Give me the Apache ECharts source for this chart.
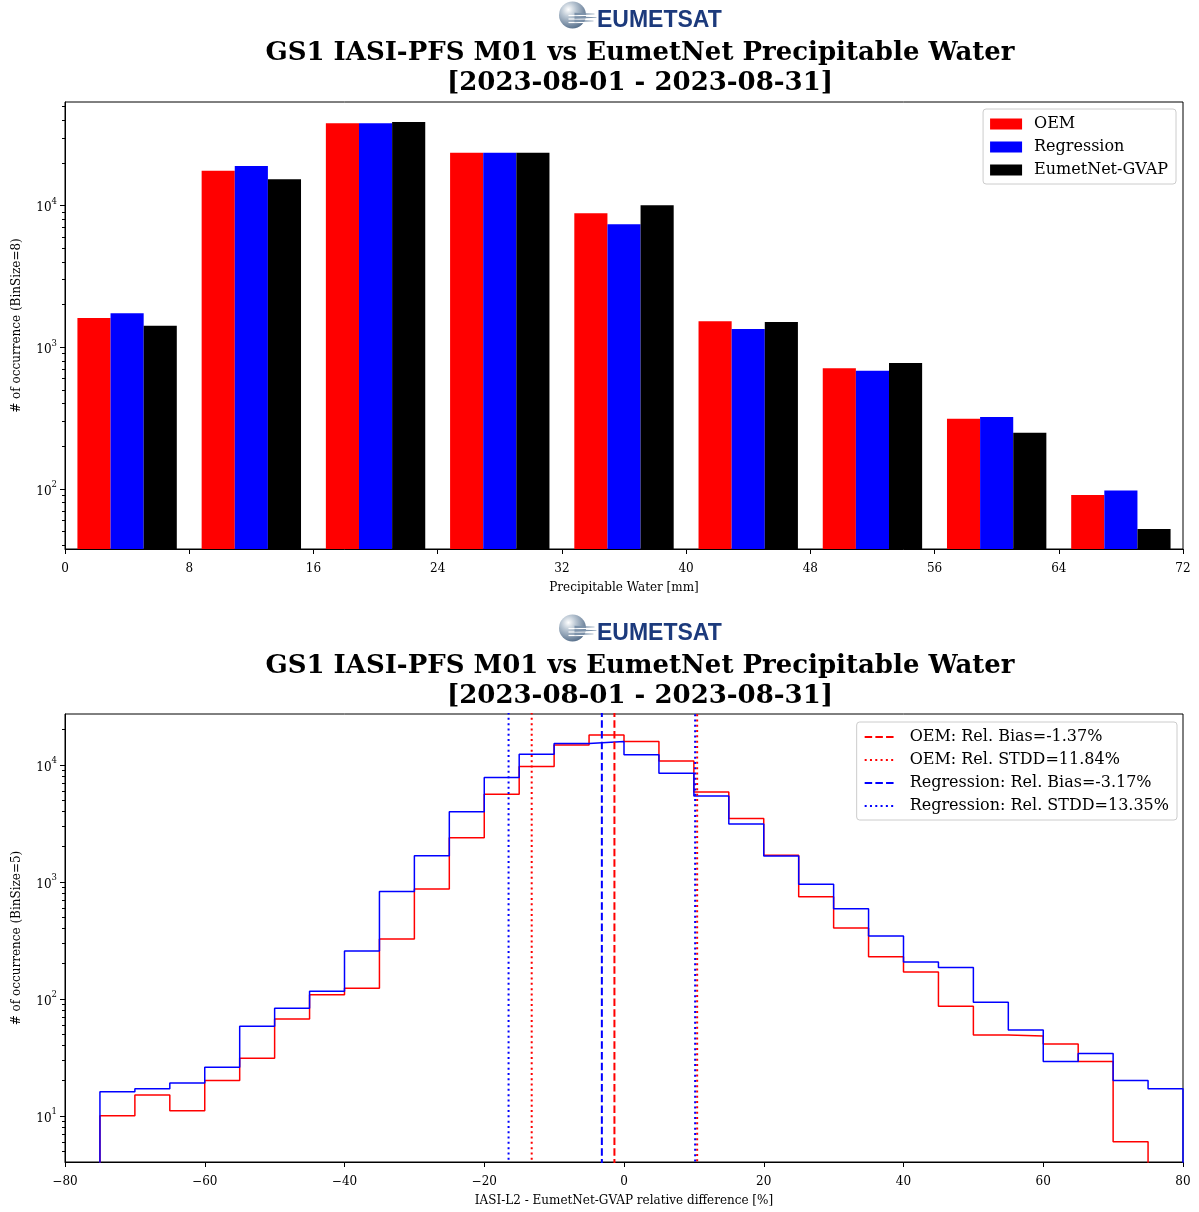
<!DOCTYPE html>
<html>
<head>
<meta charset="utf-8">
<script src="https://cdn.jsdelivr.net/npm/echarts@6.0.0/dist/echarts.min.js"></script>
<style>
html, body { margin: 0; padding: 0; background: #fff; }
#chart { width: 1199px; height: 1212px; }
</style>
</head>
<body>
<div id="chart"></div>
<script>
const serif = 'DejaVu Serif'

// top panel: precipitable water, bins of 8 mm
const pwBinStarts = [0, 8, 16, 24, 32, 40, 48, 56, 64]
const pwOem = [1600, 17500, 37850, 23500, 8770, 1518, 706, 311, 90]
const pwRegression = [1727, 18930, 37850, 23500, 7330, 1337, 680, 320, 97]
const pwGvap = [1413, 15240, 38640, 23500, 10000, 1500, 770, 248, 52]

// bottom panel: relative difference, bins of 5 %
const relBinStarts = [-75, -70, -65, -60, -55, -50, -45, -40, -35, -30, -25, -20, -15, -10, -5,
  0, 5, 10, 15, 20, 25, 30, 35, 40, 45, 50, 55, 60, 65, 70, 75]
const relOem = [10, 15, 11, 20, 31, 67, 108, 123, 324, 865, 2370, 5600, 9650, 14750, 17950,
  15750, 10750, 5850, 3460, 1680, 745, 402, 228, 169, 86, 49, 48, 41, 29, 6, 0]
const relRegression = [16, 17, 19, 26, 58, 83, 116, 256, 825, 1667, 3960, 7750, 12300, 15200, 15750,
  12150, 8450, 5410, 3115, 1660, 950, 587, 343, 206, 185, 93, 54, 29, 34, 20, 17]
const relBinEnd = 80

const oemBias = -1.37
const oemStdd = 11.84
const regBias = -3.17
const regStdd = 13.35

const titleLine1 = 'GS1 IASI-PFS M01 vs EumetNet Precipitable Water'
const titleLine2 = '[2023-08-01 - 2023-08-31]'

// bar layout inside one 8 mm bin (matplotlib width 0.8 split in 3)
const barStart = 0.8
const barWidth = 6.4 / 3

const yRange = [[37.5, 53500], [4.02, 27100]]
const xMin = [0, -80]

function logLabel(v) {
	const e = Math.log10(v)
	if (Math.abs(e - Math.round(e)) > 1e-6) return ''
	return '{b|10}{s|' + Math.round(e) + '}'
}

function minusLabel(v) {
	return v < 0 ? '\u2212' + -v : String(v)
}

function barSeries(name, color, counts, slot) {
	return {
		name: name,
		type: 'custom',
		xAxisIndex: 0,
		yAxisIndex: 0,
		itemStyle: { color: color },
		data: pwBinStarts.map((b, i) => [
			b + barStart + slot * barWidth,
			b + barStart + (slot + 1) * barWidth,
			counts[i],
		]),
		encode: { x: [0, 1], y: 2 },
		renderItem: function (params, api) {
			const p0 = api.coord([api.value(0), api.value(2)])
			const p1 = api.coord([api.value(1), api.value(2)])
			const base = params.coordSys.y + params.coordSys.height
			return {
				type: 'rect',
				shape: { x: p0[0], y: p0[1], width: p1[0] - p0[0], height: base - p0[1] },
				style: { fill: api.visual('color') },
			}
		},
	}
}

// log ticks (matplotlib style majors + minors) drawn on the left spine
function tickSeries(idx) {
	const data = []
	for (let d = 0; d <= 5; d++) {
		for (let k = 1; k <= 9; k++) {
			const v = k * Math.pow(10, d)
			if (v >= yRange[idx][0] && v <= yRange[idx][1]) data.push([xMin[idx], v, k === 1 ? 5 : 3])
		}
	}
	return {
		type: 'custom',
		xAxisIndex: idx,
		yAxisIndex: idx,
		silent: true,
		data: data,
		encode: { x: 0, y: 1 },
		renderItem: function (params, api) {
			const p = api.coord([api.value(0), api.value(1)])
			const y = Math.round(p[1]) + 0.5
			return {
				type: 'line',
				shape: { x1: p[0] - api.value(2), y1: y, x2: p[0], y2: y },
				style: { stroke: '#000', lineWidth: 1 },
			}
		},
	}
}

function stepData(counts) {
	const floor = 1e-3
	const pts = [[relBinStarts[0], floor]]
	relBinStarts.forEach((b, i) => pts.push([b, counts[i] > 0 ? counts[i] : floor]))
	const last = counts[counts.length - 1]
	pts.push([relBinEnd, last > 0 ? last : floor])
	pts.push([relBinEnd, floor])
	return pts
}

function stepSeries(color, counts) {
	return {
		type: 'line',
		xAxisIndex: 1,
		yAxisIndex: 1,
		step: 'end',
		symbol: 'none',
		silent: true,
		clip: true,
		lineStyle: { color: color, width: 1.5 },
		data: stepData(counts),
	}
}

// vertical lines spanning the whole axes (clipped)
function vlineSeries(name, color, dash, xs) {
	const lo = 1e-3
	const hi = 1e9
	const data = []
	xs.forEach((x, i) => {
		if (i % 2 === 0) data.push([x, lo], [x, hi])
		else data.push([x, hi], [x, lo])
	})
	return {
		name: name,
		type: 'line',
		xAxisIndex: 1,
		yAxisIndex: 1,
		symbol: 'none',
		silent: true,
		clip: true,
		lineStyle: { color: color, width: 2, type: dash },
		itemStyle: { color: color, opacity: 0 },
		data: data,
	}
}

function logo(x, y) {
	const streak = (y0, x1) => ({
		type: 'polygon',
		shape: { points: [[2, y0 - 1.2], [x1, y0 - 0.3], [x1, y0 + 0.3], [2, y0 + 1.2]] },
		style: { fill: '#7d93ab' },
	})
	const cut = (y0) => ({
		type: 'line',
		shape: { x1: -4, y1: y0, x2: 15, y2: y0 },
		style: { stroke: '#fff', lineWidth: 1.2 },
	})
	return {
		type: 'group',
		x: x,
		y: y,
		children: [
			{
				type: 'circle',
				shape: { cx: 0, cy: 0, r: 13.5 },
				style: {
					fill: new echarts.graphic.RadialGradient(0.35, 0.3, 0.8, [
						{ offset: 0, color: '#ffffff' },
						{ offset: 0.35, color: '#b8c5d2' },
						{ offset: 1, color: '#4a6482' },
					]),
				},
			},
			cut(0.5), cut(4), cut(7.5),
			streak(-1, 22), streak(2.5, 24), streak(6, 21),
			{
				type: 'text',
				x: 24.5,
				y: 6,
				style: {
					text: 'EUMETSAT',
					font: 'bold 23px "Liberation Sans"',
					fill: '#1c3a7c',
					align: 'left',
					verticalAlign: 'middle',
				},
			},
		],
	}
}

function titleText(text, y) {
	return {
		type: 'text',
		x: 640,
		y: y,
		style: {
			text: text,
			font: 'bold 26px "' + serif + '"',
			fill: '#000',
			align: 'center',
			verticalAlign: 'middle',
		},
	}
}

const axisText = { fontFamily: serif, fontSize: 12, color: '#000' }

function xAxis(idx, min, max, interval, name, formatter) {
	return {
		type: 'value',
		gridIndex: idx,
		min: min,
		max: max,
		interval: interval,
		axisLine: { show: true, onZero: false, lineStyle: { color: '#000', width: 1 } },
		axisTick: { show: true, length: 5, lineStyle: { color: '#000', width: 1 } },
		axisLabel: Object.assign({ margin: 14, formatter: formatter }, axisText),
		splitLine: { show: false },
		name: name,
		nameLocation: 'middle',
		nameGap: 33,
		nameTextStyle: axisText,
	}
}

function yAxis(idx, name) {
	return {
		type: 'log',
		logBase: 10,
		gridIndex: idx,
		min: yRange[idx][0],
		max: yRange[idx][1],
		axisLine: { show: true, onZero: false, lineStyle: { color: '#000', width: 1 } },
		axisTick: { show: false },
		axisLabel: {
			margin: 8,
			formatter: logLabel,
			showMinLabel: false,
			showMaxLabel: false,
			rich: {
				b: { fontFamily: serif, fontSize: 12, color: '#000', lineHeight: 18, verticalAlign: 'bottom' },
				s: { fontFamily: serif, fontSize: 8.5, color: '#000', lineHeight: 18, verticalAlign: 'top', padding: [1, 0, 0, 0] },
			},
		},
		splitLine: { show: false },
		minorTick: { show: false },
		name: name,
		nameLocation: 'middle',
		nameGap: 42,
		nameRotate: 90,
		nameTextStyle: axisText,
	}
}

const legendBase = {
	orient: 'vertical',
	backgroundColor: '#fff',
	borderColor: '#cccccc',
	borderWidth: 1,
	borderRadius: 3,
	padding: [6, 8, 5, 7],
	itemGap: 5,
	selectedMode: false,
	textStyle: { fontFamily: serif, fontSize: 16, color: '#000', lineHeight: 18, padding: [0, 0, 0, 7] },
}

const names = [
	'OEM: Rel. Bias=' + oemBias.toFixed(2) + '%',
	'OEM: Rel. STDD=' + oemStdd.toFixed(2) + '%',
	'Regression: Rel. Bias=' + regBias.toFixed(2) + '%',
	'Regression: Rel. STDD=' + regStdd.toFixed(2) + '%',
]
const dashed = [7.5, 3.2]
const dotted = [2, 3.3]

const option = {
	animation: false,
	backgroundColor: '#fff',
	graphic: [
		logo(572.5, 15),
		titleText(titleLine1, 53),
		titleText(titleLine2, 83),
		logo(572.5, 628),
		titleText(titleLine1, 666),
		titleText(titleLine2, 696),
	],
	grid: [
		{ left: 65, top: 102, width: 1118, height: 447, show: true, borderColor: '#000', borderWidth: 1 },
		{ left: 65, top: 714, width: 1118, height: 448, show: true, borderColor: '#000', borderWidth: 1 },
	],
	legend: [
		Object.assign({}, legendBase, {
			right: 23,
			top: 109,
			icon: 'rect',
			itemWidth: 32,
			itemHeight: 11,
			data: ['OEM', 'Regression', 'EumetNet-GVAP'],
		}),
		Object.assign({}, legendBase, {
			right: 22,
			top: 722,
			itemWidth: 31,
			itemHeight: 11,
			itemStyle: { opacity: 0 },
			textStyle: Object.assign({}, legendBase.textStyle, { padding: [0, 0, 0, 9] }),
			data: names,
		}),
	],
	xAxis: [
		xAxis(0, 0, 72, 8, 'Precipitable Water [mm]', minusLabel),
		xAxis(1, -80, 80, 20, 'IASI-L2 - EumetNet-GVAP relative difference [%]', minusLabel),
	],
	yAxis: [yAxis(0, '# of occurrence (BinSize=8)'), yAxis(1, '# of occurrence (BinSize=5)')],
	series: [
		barSeries('OEM', '#ff0000', pwOem, 0),
		barSeries('Regression', '#0000ff', pwRegression, 1),
		barSeries('EumetNet-GVAP', '#000000', pwGvap, 2),
		tickSeries(0),
		stepSeries('#ff0000', relOem),
		stepSeries('#0000ff', relRegression),
		vlineSeries(names[0], '#ff0000', dashed, [oemBias]),
		vlineSeries(names[1], '#ff0000', dotted, [oemBias - oemStdd, oemBias + oemStdd]),
		vlineSeries(names[2], '#0000ff', dashed, [regBias]),
		vlineSeries(names[3], '#0000ff', dotted, [regBias - regStdd, regBias + regStdd]),
		tickSeries(1),
	],
}

const chart = echarts.init(document.getElementById('chart'))
chart.setOption(option)
</script>
</body>
</html>
